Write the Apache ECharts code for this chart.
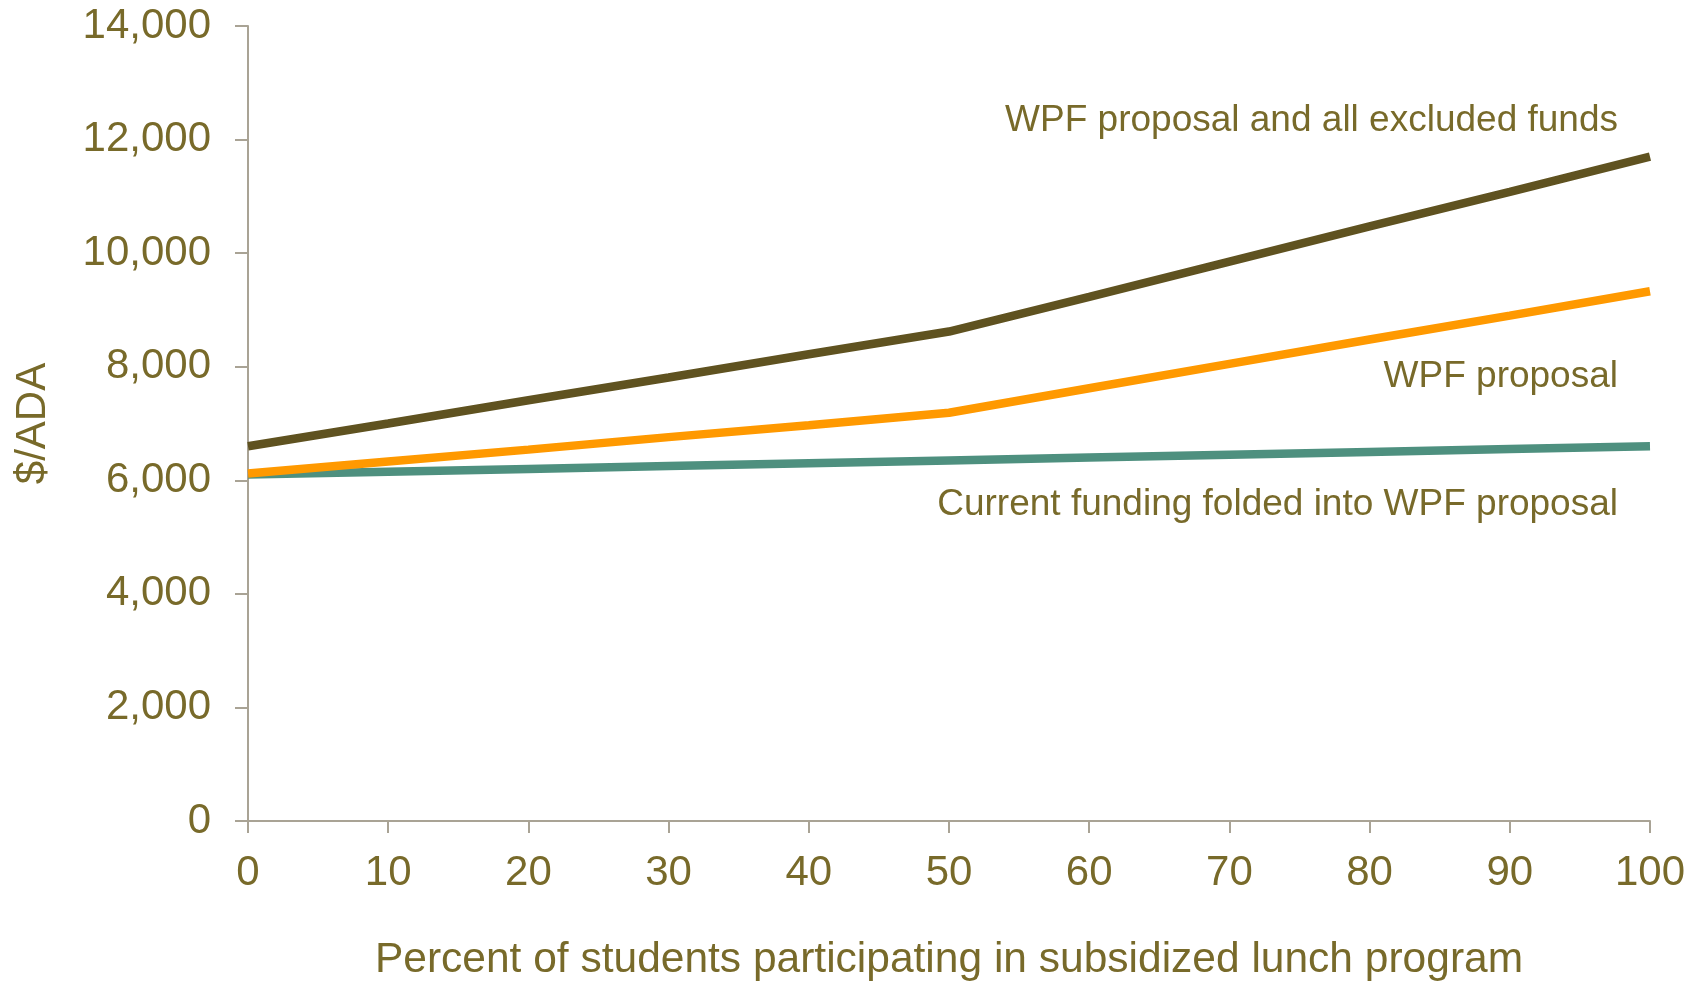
<!DOCTYPE html>
<html>
<head>
<meta charset="utf-8">
<script src="https://cdn.jsdelivr.net/npm/echarts@6/dist/echarts.min.js"></script>
<style>
  html, body { margin: 0; padding: 0; background: #fff; }
  #chart { width: 1702px; height: 983px; }
</style>
</head>
<body>
<div id="chart"></div>
<script>
// percent of students in subsidized lunch program
const pct = [0, 10, 20, 30, 40, 50, 60, 70, 80, 90, 100]
// $/ADA per series
const wpfAllExcluded = [6600, 7000, 7410, 7810, 8220, 8620, 9230, 9850, 10470, 11080, 11700]
const wpfProposal = [6120, 6330, 6540, 6760, 6970, 7190, 7620, 8050, 8480, 8900, 9330]
const currentFolded = [6100, 6150, 6200, 6250, 6300, 6350, 6400, 6450, 6500, 6550, 6600]
const seriesNames = [
  'WPF proposal and all excluded funds',
  'WPF proposal',
  'Current funding folded into WPF proposal'
]

const textColor = '#786a2a'
const axisColor = '#a9a395'
const font = 'Liberation Sans, Arial, sans-serif'

const chart = echarts.init(document.getElementById('chart'))

const pairs = (vals) => pct.map((x, i) => [x, vals[i]])

const option = {
  animation: false,
  grid: { left: 248, top: 26, right: 52, bottom: 162, outerBoundsMode: 'none' },
  xAxis: {
    type: 'value',
    min: 0,
    max: 100,
    interval: 10,
    name: 'Percent of students participating in subsidized lunch program',
    nameLocation: 'middle',
    nameGap: 118,
    nameTextStyle: { color: textColor, fontSize: 42.5, fontFamily: font },
    axisLine: { lineStyle: { color: axisColor, width: 2 } },
    axisTick: { show: true, length: 12, lineStyle: { color: axisColor, width: 2 } },
    axisLabel: { color: textColor, fontSize: 42, fontFamily: font, margin: 31 },
    splitLine: { show: false }
  },
  yAxis: {
    type: 'value',
    min: 0,
    max: 14000,
    interval: 2000,
    name: '$/ADA',
    nameLocation: 'middle',
    nameGap: 194,
    nameTextStyle: { color: textColor, fontSize: 42, fontFamily: font },
    axisLine: { show: true, lineStyle: { color: axisColor, width: 2 } },
    axisTick: { show: true, length: 13, lineStyle: { color: axisColor, width: 2 } },
    axisLabel: {
      color: textColor, fontSize: 42, fontFamily: font, margin: 37,
      formatter: (v) => v.toLocaleString('en-US')
    },
    splitLine: { show: false }
  },
  series: [
    {
      name: seriesNames[2],
      type: 'line',
      data: pairs(currentFolded),
      showSymbol: false,
      lineStyle: { color: '#4e907f', width: 8.5 }
    },
    {
      name: seriesNames[1],
      type: 'line',
      data: pairs(wpfProposal),
      showSymbol: false,
      lineStyle: { color: '#ff9900', width: 8.5 }
    },
    {
      name: seriesNames[0],
      type: 'line',
      data: pairs(wpfAllExcluded),
      showSymbol: false,
      lineStyle: { color: '#5f5220', width: 8.5 }
    }
  ],
  graphic: [
    { type: 'text', right: 84, top: 102, style: { text: seriesNames[0], fill: textColor, font: '37px ' + font } },
    { type: 'text', right: 84, top: 358, style: { text: seriesNames[1], fill: textColor, font: '37px ' + font } },
    { type: 'text', right: 84, top: 486, style: { text: seriesNames[2], fill: textColor, font: '37px ' + font } }
  ]
}

chart.setOption(option)
</script>
</body>
</html>
